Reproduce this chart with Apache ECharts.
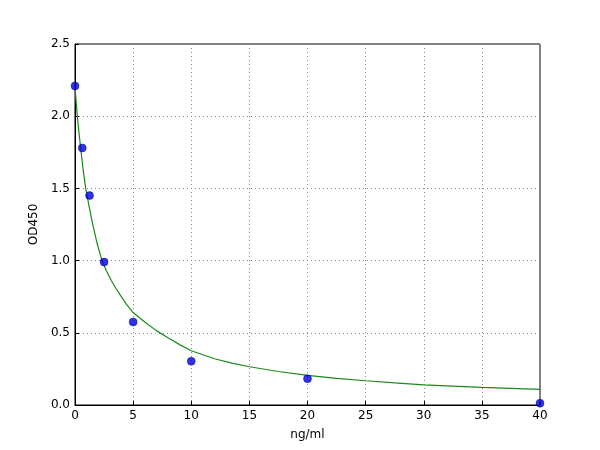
<!DOCTYPE html>
<html>
<head>
<meta charset="utf-8">
<script src="https://cdn.jsdelivr.net/npm/echarts@6/dist/echarts.min.js"></script>
<style>
  html, body { margin: 0; padding: 0; background: #fff; }
  #main { width: 600px; height: 450px; }
</style>
</head>
<body>
<div id="main"></div>
<script>
// standard points (ng/ml, OD450)
const concentrations = [0, 0.625, 1.25, 2.5, 5, 10, 20, 40]
const odValues = [2.21, 1.78, 1.45, 0.99, 0.575, 0.303, 0.182, 0.012]

// fitted curve
const curveX = [0, 0.1, 0.2, 0.35, 0.5, 0.7, 0.92, 1.2, 1.5, 1.9, 2.32, 2.7, 3.13, 3.5, 3.87, 4.4, 5,
  6, 7, 8, 9, 10, 12, 13.5, 15, 17.5, 20, 22.5, 25, 27.5, 30, 35, 40]
const curveY = [2.2, 2.1, 2.0, 1.88, 1.77, 1.63, 1.5, 1.38, 1.26, 1.12, 1.0, 0.93, 0.86, 0.81, 0.764, 0.70, 0.64,
  0.575, 0.515, 0.465, 0.418, 0.376, 0.32, 0.29, 0.265, 0.232, 0.205, 0.185, 0.168, 0.153, 0.14, 0.122, 0.108]

const font = 'DejaVu Sans'

const chart = echarts.init(document.getElementById('main'))

chart.setOption({
  animation: false,
  backgroundColor: '#fff',
  grid: {
    left: 75, right: 60, top: 44, bottom: 45,
    show: true, borderColor: '#000', borderWidth: 1, backgroundColor: 'transparent'
  },
  xAxis: {
    type: 'value',
    min: 0, max: 40, interval: 5,
    name: 'ng/ml',
    nameLocation: 'middle',
    nameGap: 24,
    nameTextStyle: { fontFamily: font, fontSize: 12, color: '#000' },
    axisLine: { show: true, lineStyle: { color: '#000', width: 1 } },
    axisTick: { show: true, inside: true, length: 4, lineStyle: { color: '#000' } },
    axisLabel: { fontFamily: font, fontSize: 12, color: '#000', margin: 5 },
    splitLine: { show: true, lineStyle: { color: '#888', type: [1, 3], width: 1 } }
  },
  yAxis: {
    type: 'value',
    min: 0, max: 2.5, interval: 0.5,
    name: 'OD450',
    nameLocation: 'middle',
    nameGap: 27,
    nameTextStyle: { fontFamily: font, fontSize: 12, color: '#000' },
    axisLine: { show: true, lineStyle: { color: '#000', width: 1 } },
    axisTick: { show: true, inside: true, length: 4, lineStyle: { color: '#000' } },
    axisLabel: { fontFamily: font, fontSize: 12, color: '#000', margin: 5,
      formatter: v => v.toFixed(1) },
    splitLine: { show: true, lineStyle: { color: '#888', type: [1, 3], width: 1 } }
  },
  series: [
    {
      type: 'line',
      data: curveX.map((x, i) => [x, curveY[i]]),
      smooth: false,
      showSymbol: false,
      lineStyle: { color: '#1a8a1a', width: 1.2 },
      z: 2
    },
    {
      type: 'scatter',
      data: concentrations.map((x, i) => [x, odValues[i]]),
      symbolSize: 8,
      itemStyle: { color: '#0000dd', borderColor: '#000080', borderWidth: 0.5 },
      clip: false,
      z: 3
    }
  ]
})
</script>
</body>
</html>
